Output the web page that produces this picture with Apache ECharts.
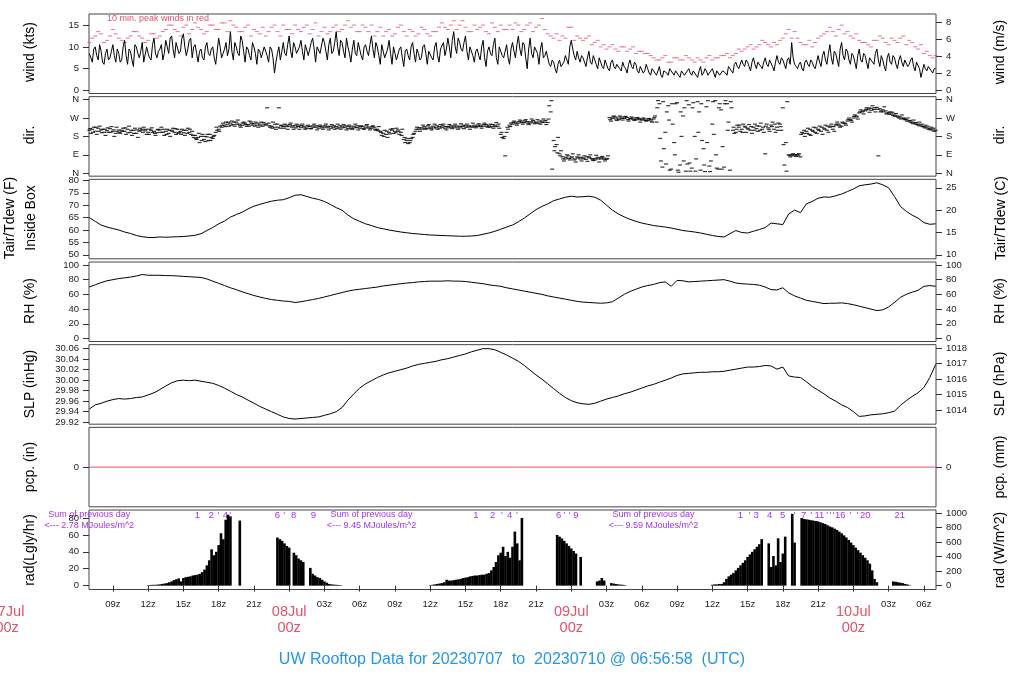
<!DOCTYPE html>
<html><head><meta charset="utf-8">
<script src="https://cdn.jsdelivr.net/npm/echarts@6/dist/echarts.min.js"></script>
<style>html,body{margin:0;padding:0;background:#fff}#c{width:1024px;height:700px}</style>
</head><body><div id="c"></div>
<script>
// ---- time base: hours since 07Jul 00z ----
const windStart = 7, windStep = 0.25;
const windKts = [
8.5,6.5,10,7,9,6,9.5,7.5,10.5,6.5,8.5,7,
11.5,6,9,5.5,10,7.5,11,6.5,8.5,7,12,7.5,
9.5,7,11.5,8.5,12.5,7.5,11,9,13,8,11.5,7.5,
10.5,6.5,9.5,7,11,8,10,6,12,7.5,9.5,8,
13.5,7,10,8,11.5,6.5,9.5,7,10,6,9,7.5,
10,6.5,9.5,4,8.5,7,11,8,12.5,7.5,10,8.5,
11.5,7,10.5,8,12,6.5,10,8.5,11,7,12,9,
13.5,8,11,7.5,10,6.5,11.5,8,9.5,7,10.5,8,
12.5,7.5,10,6,9,7.5,11.5,6,8.5,7,10,5.5,
9.5,7,11,6.5,8.5,7.5,10.5,6,9,7,11,6.5,
9.5,8,12,7.5,13.5,8.5,11,9,12.5,7,10,6.5,
9.5,7,11.5,5.5,10,8,12,6,9,7.5,10.5,6,
11,7.5,12.5,8,10.5,5,12,7.5,10,6,11,8,
7.5,5.5,6.5,4,7,5.5,8,6,11.5,8,9,6.5,
7.5,5.5,9,6,7,5,6.5,5,6,4.5,7,5,
6,4.5,5.5,4,7,5,6,4,5.5,4.5,5,3.5,
4.5,3.5,5.5,3,4.5,3.5,5,3.5,4.5,3,4,3.5,
5,3.5,4.5,3,5.5,4,4.5,3.5,5,3,4,3.5,
4.5,3.5,5,4,6.5,5,7,5.5,6.5,4.5,7.5,5,
6.5,5,7.5,5.5,7,4.5,8,6,7,5,7.5,11,
6,5,6.5,4.5,7,5.5,6.5,5,8,5.5,9,6,
10.5,6,8.5,5.5,11,7,9,6,8,5,9.5,6.5,
8,5,7.5,6,9.5,5.5,7,4.5,8.5,6,7.5,5,
8,5.5,7,6,7.5,4.5,6.5,3,6,4.5,5.5,4,
5];
// readings in between (offset +0.125 h)
const windKtsMid = [
7.5,9.5,8,10.5,6.5,8.5,7,9,8,9.5,6.5,10,
8,9.5,7,10.5,8.5,9,6.5,10,7.5,10.5,8.5,9,
10.5,8.5,10,12,9.5,11,8.5,12,10,9.5,12,10,
8.5,9,7.5,10,8.5,9.5,7.5,9,10,8.5,11,9.5,
9,11,8.5,12.5,9,10,8,11,8.5,9.5,7.5,10,
8,10,7.5,6.5,10,9,8.5,10.5,9,11,8.5,10,
9,10.5,8,11,9.5,10,8.5,12,9,10.5,8.5,11,
10,11.5,9,12,8.5,9.5,8.5,11,8,10,9,10.5,
9.5,11,8,10.5,7.5,9.5,8.5,10,7,9.5,7.5,9,
8,10,8.5,9.5,7,10,8.5,9,7.5,10,8,9.5,
11,9.5,10,11.5,10,12,9.5,11,9,10,8,9,
8,10,7.5,9,8.5,10.5,7.5,10,8,9,7.5,9.5,
9,10.5,9.5,11,7.5,9.5,8.5,10,8.5,9.5,7.5,9,
6,7,5,6,5.5,6.5,7,10,9.5,7,7.5,8,
6.5,7.5,6.5,8,6,7.5,5.5,7,5,6.5,5.5,6,
5,6.5,5,6,5.5,6.5,4.5,5.5,4,6,4,5,
4,4.5,3.5,4.5,4,5,4,4.5,3.5,4.5,3.5,4.5,
4,4.5,3.5,4.5,3.5,5,3.5,4.5,4,4.5,3.5,4.5,
4,5.5,4.5,6,5.5,6,6,7,5.5,6.5,6,6.5,
5.5,6.5,6,7,5.5,6.5,6.5,7.5,6,7,6,7.5,
5.5,6,5,6.5,6,7,5.5,6.5,6.5,8,7,8.5,
7.5,9,7,9.5,8,9.5,7,8.5,6.5,8,7,8.5,
6.5,7.5,6.5,8.5,7,8,5.5,7.5,6.5,8,6,7,
6.5,7,5.5,7,5.5,6.5,5,4.5,5,5.5,4.5,5];
const peakStart = 7, peakStep = 0.5;
const peakKts = [
11,12.5,13,11.5,14,12,11,12.5,13.5,12,11.5,13,
12.5,14,15,13.5,14.5,13,15.5,14,13.5,15,14,15.5,
16,14.5,13.5,15,14,13,12.5,14.5,13.5,15,14,15,
13.5,15,14,12.5,14.5,13.5,15,14,16,15,13.5,14.5,
15,13.5,12.5,14,13,15,12.5,13.5,13,14,12.5,13.5,
15.5,14,16,15,14.5,13.5,14,15,13,14.5,15,14,
14,15,14,15.5,14.5,16.5,13,12,11.5,12,14.5,12.5,
11.5,12.5,11,10,9.5,10.5,9,10,9.5,8.5,9,8.5,
7.5,7,8,6.5,7.5,7,7.5,6.5,7,7.5,7,7.5,
8,7.5,8.5,9,10,9.5,10.5,11,10,10.5,12,14,
13.5,11,10.5,10,12,13,14.5,12.5,15,13.5,12,11.5,
11,10,11.5,12,10.5,11.5,12,10.5,11,9.5,8.5,8,
8];
// peaks in between (offset +0.25 h)
const peakKtsMid = [
12,13.5,11,12.5,13,11.5,12,13.5,12.5,11,13,12,
13.5,15,14,12.5,15,14,14.5,13,15,14,15.5,13.5,
15,13.5,14.5,12.5,13.5,14.5,13.5,15,12.5,14,13,14,
14.5,13,15.5,13.5,13,14.5,13.5,15,14.5,13.5,15,13.5,
12.5,14.5,13.5,12.5,14.5,13.5,14,12.5,14.5,13,13.5,14.5,
14.5,15,14,16,13.5,15,14.5,13.5,15.5,13.5,14,15,
15.5,13.5,15,13.5,15,14,12.5,13,12.5,14.5,11.5,12,
12,10.5,11.5,10.5,10,9.5,10,9,10,9,8.5,8,
7,7.5,6.5,7.5,7,8,7,7.5,6.5,8,7.5,8,
8.5,8,9.5,9.5,10.5,10,11.5,10.5,11,11.5,13,12,
12,10.5,11.5,11,12.5,13.5,13.5,14,13,12.5,13,11,
10.5,11.5,12.5,11,12,11,12.5,11.5,10,10.5,9,7.5];
const dirStart = 7, dirStep = 0.25;
const dirA = [
210,215,205,220,212,200,208,218,205,195,212,210,
205,215,200,210,195,205,215,208,200,210,205,198,
212,200,205,195,210,200,215,205,198,210,200,205,
185,175,180,165,178,190,170,200,215,225,235,240,
245,238,250,240,235,245,238,250,242,235,240,230,
235,245,230,225,240,220,228,235,230,225,232,228,
225,230,220,228,232,225,220,230,226,222,230,225,
228,222,230,225,218,226,230,224,220,228,222,226,
220,225,215,205,195,190,200,210,205,212,200,165,
160,150,175,205,215,222,228,220,225,230,222,228,
225,220,228,232,226,222,230,228,232,226,230,235,
228,235,230,238,232,228,235,230,190,170,200,235,
240,250,245,255,248,252,245,258,250,245,255,250,
248,300,160,140,95,80,70,85,75,65,80,70,
75,68,80,72,65,78,70,75,68,272,268,275,
270,275,268,272,265,270,262,268,260,265,258,262,
265,250,340,30,200,330,20,150,345,40,280,10,
335,25,180,350,15,120,325,35,240,355,20,310,
30,340,15,210,200,225,215,230,220,210,225,218,
230,215,95,222,235,215,225,240,320,150,90,85,
88,92,80,195,205,190,210,200,215,205,220,210,
225,215,235,240,230,245,255,262,270,280,295,300,
305,310,318,312,322,315,310,305,295,290,285,280,
275,270,262,255,250,245,240,235,228,222,218,212,
210];
const dirB = [
195,225,190,230,215,185,200,228,180,205,195,220,
190,230,185,220,175,210,225,190,215,200,185,215,
225,185,215,180,220,190,200,215,185,220,190,175,
165,150,190,155,160,175,185,210,230,245,250,230,
255,230,260,225,250,230,255,235,250,225,250,240,
320,225,250,215,320,235,240,215,245,215,240,215,
240,215,235,218,240,212,235,215,240,212,238,215,
240,215,238,212,235,215,240,212,232,215,238,212,
232,210,228,185,210,175,215,195,220,190,215,150,
145,170,195,225,205,235,215,238,212,240,215,238,
240,212,238,218,240,215,242,218,240,215,245,222,
242,220,245,225,240,220,248,220,175,85,215,245,
255,235,260,240,262,238,265,242,262,240,265,238,
330,20,130,175,110,60,90,65,95,55,90,60,
85,58,90,62,88,55,82,60,85,255,280,258,
280,260,278,255,275,258,272,250,270,255,268,250,
280,355,60,120,300,15,240,340,5,180,320,45,
10,345,70,300,160,8,355,60,190,25,340,130,
355,250,320,195,235,205,240,200,238,195,240,205,
245,200,240,205,250,200,245,210,40,350,80,95,
82,95,200,180,220,185,225,195,230,190,235,200,
240,205,250,225,245,235,270,250,285,265,310,290,
320,298,330,300,85,305,325,295,300,282,292,270,
285,262,270,248,260,238,250,228,235,215,225,205];
const dirC = [
218,200,225,205,198,215,222,200,212,225,200,205,
222,198,210,195,212,220,200,215,190,222,195,212,
200,215,190,210,205,218,195,190,210,195,215,185,
170,195,160,180,190,160,180,225,205,235,228,250,
235,250,240,232,245,238,230,242,230,245,232,248,
240,232,220,240,225,232,220,228,238,232,222,235,
232,222,230,218,225,232,228,222,232,228,220,232,
220,232,222,232,228,218,222,232,228,218,232,220,
228,215,208,200,180,205,192,218,198,205,185,175,
170,160,190,215,222,215,220,232,218,222,232,220,
232,228,222,225,232,230,222,235,225,232,225,228,
235,228,238,230,225,238,228,240,200,180,225,228,
248,242,252,248,256,245,252,250,245,255,248,258,
265,355,110,100,85,70,78,72,80,70,75,78,
70,80,75,66,72,70,76,68,72,262,275,265,
262,268,275,262,268,262,270,262,265,258,265,255,
272,320,170,350,45,260,340,90,15,300,60,355,
50,320,10,200,340,40,150,8,350,90,320,20,
340,210,350,225,215,235,200,225,215,228,210,232,
210,225,230,215,228,240,210,228,140,10,88,92,
90,85,190,210,195,215,205,222,210,225,215,230,
230,228,240,232,250,242,262,258,278,275,300,305,
312,318,308,320,312,300,300,290,288,298,278,275,
265,268,255,258,242,248,232,240,222,230,212,220];
const slowStart = 7, slowStep = 0.5;
const tempF = [
65,63.5,62,61.2,60.6,60,59.2,58.6,57.8,57.3,57,57,
57.2,57.1,57.2,57.3,57.4,57.6,57.9,58.5,59.8,61,62.5,63.6,
65.2,66.2,67.2,68.5,69.6,70.3,71,71.6,72,72.2,73,74,
74.2,73.5,72.8,72.3,71.5,70.3,69,68,66,64.5,63.5,62.5,
61.8,61,60.5,60,59.6,59.2,58.9,58.6,58.4,58.2,58,57.9,
57.8,57.7,57.6,57.5,57.5,57.6,57.8,58.3,58.8,59.5,60.3,61.2,
62,63.3,64.8,66.5,68.2,69.5,70.5,71.8,72.5,73.2,73.6,73.3,
73.4,73.6,73.2,72,70,68,66.5,65.3,64.3,63.5,62.8,62.3,
61.8,61.5,61.2,60.8,60.3,59.8,59.5,59.2,58.8,58.3,57.8,57.4,
57.2,58.5,59.8,59,58.8,59.5,60.2,61,62.8,62.5,62.2,66.5,
68,67,70.5,71.5,72.8,73.3,73.2,73.8,74.5,75.5,76.5,77.8,
78.2,78.5,79,78.2,77,73.5,69.5,67.5,66,64.8,63,62.3,
62.5];
const rhPct = [
70,73,76,78.5,80,81.5,82.5,83.5,85,87,86,86,
86,85.5,85.5,85,84.5,84,83.5,83,81,78,75,72,
69,66.5,63.5,61,58.5,56.5,54.5,53,52,51,50.5,49,
50,51.5,53,54.5,56.5,58.5,60.5,62.5,64.5,66,67,68,
69,70,71.5,72.5,73.5,74.5,75.5,76,77,77.5,78,78,
78,78.5,78,78,77.5,76.5,75.5,74.5,73,72,71,69,
67.5,66,64.5,63,61.5,60,58,56.5,55,53.5,52,50.5,
49.5,49,48.5,48,48.5,50,55,60,64,67,70,72,
73.5,76,77,71,79,78.5,77,77.5,78,78.5,79,79.5,
80,78,75.5,74.5,74,73.5,72.5,70,66.5,66,69,62,
58,55,52,50.5,49,47.5,48,48,48.5,47.5,46,44,
42,40,38,39,43,49,56,60,63,65.5,71,72,
71];
const slpInHg = [
29.945,29.953,29.956,29.96,29.963,29.965,29.964,29.965,29.967,29.968,29.972,29.976,
29.982,29.989,29.995,29.999,30.000,29.999,30.000,29.998,29.996,29.994,29.99,29.985,
29.979,29.973,29.968,29.962,29.956,29.95,29.945,29.94,29.935,29.93,29.927,29.926,
29.927,29.928,29.929,29.93,29.933,29.936,29.94,29.948,29.962,29.974,29.985,29.993,
29.999,30.005,30.01,30.014,30.017,30.02,30.023,30.027,30.03,30.032,30.034,30.036,
30.039,30.041,30.044,30.047,30.05,30.054,30.057,30.06,30.06,30.058,30.053,30.048,
30.042,30.036,30.028,30.019,30.01,30.002,29.993,29.984,29.975,29.967,29.961,29.957,
29.955,29.954,29.956,29.96,29.964,29.967,29.97,29.974,29.977,29.981,29.985,29.989,
29.992,29.996,30.000,30.004,30.009,30.012,30.013,30.014,30.015,30.015,30.016,30.016,
30.017,30.019,30.021,30.023,30.025,30.025,30.026,30.028,30.027,30.021,30.025,30.008,
30.006,30.005,29.997,29.988,29.981,29.974,29.966,29.96,29.953,29.948,29.94,29.931,
29.932,29.934,29.935,29.936,29.938,29.941,29.952,29.961,29.969,29.976,29.986,30.005,
30.03];
const pcpHours = [6.97, 79.03];
const pcpIn = [0, 0];
// [hour, Langley/hr] (night / missing = no bar)
const radiation = [
[12.0,0.5],[12.2,0.8],[12.4,1],[12.6,1],[12.8,1.2],
[13.0,1.5],[13.2,2],[13.4,2.5],[13.6,3],[13.8,4],[14.0,5],[14.2,6.5],[14.4,7.5],[14.6,8.5],[14.8,5],
[15.0,9],[15.2,10],[15.4,10.5],[15.6,11],[15.8,12],[16.0,12.5],[16.2,13],[16.4,14],[16.6,16],[16.8,19],
[17.0,24],[17.2,30],[17.4,43],[17.6,36],[17.8,40],[18.0,48],[18.2,62],[18.4,55],[18.6,78],[18.8,84],
[19.0,82],[19.8,77],
[23.0,57],[23.2,55],[23.4,53],[23.6,50],[23.8,47],[24.0,45],[24.4,39],[24.6,36],[24.8,32],[25.0,30],[25.2,28],
[25.8,21],[26.0,14],[26.2,12],[26.4,10],[26.6,9],[26.8,7],[27.0,5],[27.2,3.5],[27.4,2],[27.6,1.5],[27.8,1.2],
[28.0,1],[28.2,0.8],[28.4,0.5],
[36.0,0.5],[36.2,1],[36.4,1.5],[36.6,2],[36.8,2.5],[37.0,3],[37.2,4],[37.4,7],[37.6,6],[37.8,6],
[38.0,6.5],[38.2,7],[38.4,7.5],[38.6,8],[38.8,9],[39.0,9.5],[39.2,10],[39.4,11],[39.6,11.5],[39.8,12],
[40.0,12],[40.2,12.5],[40.4,13],[40.6,13],[40.8,14],[41.0,15],[41.2,18],[41.4,22],[41.6,28],[41.8,36],
[42.0,39],[42.2,46],[42.4,35],[42.6,40],[42.8,33],[43.0,46],[43.2,64],[43.4,50],[43.6,30],[43.8,80],
[46.8,60],[47.0,58],[47.2,56],[47.4,53],[47.6,50],[47.8,47],[48.0,44],[48.2,41],[48.4,38],[48.8,34],
[50.2,5],[50.4,6],[50.6,9],[50.8,6],[51.4,3],[51.6,2.5],[51.8,2],[52.0,1.5],[52.2,1.2],[52.4,1],[52.6,0.5],
[60.0,1],[60.2,1.5],[60.4,1.5],[60.6,2],[60.8,2],[61.0,4],[61.2,8],[61.4,11],[61.6,13],[61.8,15],
[62.0,18],[62.2,21],[62.4,24],[62.6,27],[62.8,30],[63.0,34],[63.2,37],[63.4,40],[63.6,43],[63.8,46],
[64.0,49],[64.2,55],[64.8,50],[65.0,22],[65.2,35],[65.4,24],[65.6,56],[65.8,28],[66.0,38],[66.2,58],
[66.8,85],[67.0,51],[67.6,80],[67.8,79],[68.0,78.5],[68.2,78],[68.4,77.5],[68.6,77],[68.8,76.5],
[69.0,76],[69.2,75],[69.4,74],[69.6,73],[69.8,71.5],[70.0,70],[70.2,69],[70.4,67.5],[70.6,66],[70.8,64],
[71.0,62],[71.2,59.5],[71.4,57],[71.6,54],[71.8,51],[72.0,48],[72.2,45],[72.4,42],[72.6,39],[72.8,36],
[73.0,33],[73.2,30],[73.4,26],[73.6,18],[73.8,8],[74.0,4],
[75.4,5],[75.6,4.5],[75.8,4],[76.0,3.5],[76.2,3],[76.4,2],[76.6,1.5],[76.8,0.5]
];
const tickHours = [9,12,15,18,21,24,27,30,33,36,39,42,45,48,51,54,57,60,63,66,69,72,75,78];
const dateHours = [0, 24, 48, 72];
const dateLabels = ['07Jul', '08Jul', '09Jul', '10Jul'];
const sumHours = [7, 31, 55];
const sumValues = ['2.78', '9.45', '9.59'];
const markHours = [16.2,17.36,17.98,18.58,18.98,23.0,23.57,24.37,26.07,
  39.89,41.3,42.1,42.75,43.38,46.92,47.43,47.86,48.4,
  62.38,63.17,63.72,64.88,65.98,66.98,67.77,68.4,69.11,69.76,70.04,70.32,70.89,71.74,72.37,73.02,75.94];
const markLabels = ['1','2',"'",'4',"'",'6',"'",'8','9',
  '1','2',"'",'4',"'",'6',"'","'",'9',
  '1',"'",'3','4','5',"'",'7',"'",'11',"'","'","'",'16',"'","'",'20','21'];
const dirTicks = [0, 90, 180, 270, 360];
const dirNames = ['N', 'E', 'S', 'W', 'N'];

// ---- build ----
const FONT = '"Liberation Sans", Arial, Helvetica, sans-serif';
const RED = '#DF536B', BLUE = '#2297E6', PURPLE = '#A333F0';
const X0 = 6.97, X1 = 79.03;
const series2 = (start, step, arr) => arr.map((v, i) => [start + i * step, v]);
const merged = (...parts) => [].concat(...parts).sort((a, b) => a[0] - b[0]);

const grids = [];
for (let i = 0; i < 7; i++) grids.push({left: 89, width: 847, top: 14 + i * 82.67, height: 79.5,
  show: true, borderColor: '#444', borderWidth: 1, backgroundColor: 'transparent'});

const xAxes = grids.map((g, i) => ({
  type: 'value', gridIndex: i, min: X0, max: X1, axisLine: {show: false}, splitLine: {show: false},
  axisTick: {show: i === 6, customValues: tickHours, length: 6, lineStyle: {color: '#333'}},
  axisLabel: {show: i === 6, customValues: tickHours, fontSize: 9.5, fontFamily: FONT, color: '#222', margin: 10,
    formatter: v => { const hh = Math.round(v) % 24; return hh === 0 ? '' : String(hh).padStart(2, '0') + 'z'; }}
}));

function yax(gi, pos, min, max, vals, fmt) {
  return {type: 'value', gridIndex: gi, position: pos, min, max, axisLine: {show: false}, splitLine: {show: false},
    axisTick: {show: true, customValues: vals, length: 6, lineStyle: {color: '#333'}},
    axisLabel: {customValues: vals, formatter: fmt, fontSize: 9.5, fontFamily: FONT, color: '#222', margin: 10}};
}
const KT = 1.94384, HPA = 33.8639, WM2 = 11.622;
const yAxes = [
  yax(0, 'left', -0.69, 17.54, [0,5,10,15], v => String(Math.round(v))),
  yax(0, 'right', -0.69 / KT, 17.54 / KT, [0,2,4,6,8], v => String(Math.round(v))),
  yax(1, 'left', -14.4, 374.4, dirTicks, v => dirNames[dirTicks.indexOf(Math.round(v))]),
  yax(1, 'right', -14.4, 374.4, dirTicks, v => dirNames[dirTicks.indexOf(Math.round(v))]),
  yax(2, 'left', 48.4, 80.4, [50,55,60,65,70,75,80], v => String(Math.round(v))),
  yax(2, 'right', (48.4 - 32) / 1.8, (80.4 - 32) / 1.8, [10,15,20,25], v => String(Math.round(v))),
  yax(3, 'left', -4, 104, [0,20,40,60,80,100], v => String(Math.round(v))),
  yax(3, 'right', -4, 104, [0,20,40,60,80,100], v => String(Math.round(v))),
  yax(4, 'left', 29.9162, 30.0676, [29.92,29.94,29.96,29.98,30.00,30.02,30.04,30.06], v => v.toFixed(2)),
  yax(4, 'right', 29.9162 * HPA, 30.0676 * HPA, [1014,1015,1016,1017,1018], v => String(Math.round(v))),
  yax(5, 'left', -1, 1, [0], v => '0'),
  yax(5, 'right', -25.4, 25.4, [0], v => '0'),
  yax(6, 'left', -4.6, 89.5, [0,20,40,60,80], v => String(Math.round(v))),
  yax(6, 'right', -4.6 * WM2, 89.5 * WM2, [0,200,400,600,800,1000], v => String(Math.round(v)))
];

const dash = {type: 'scatter', symbol: 'rect', symbolSize: [4, 1.2], itemStyle: {color: '#000'}};
const series = [
  {type: 'line', xAxisIndex: 0, yAxisIndex: 0, symbol: 'none', lineStyle: {color: '#000', width: 1}, z: 3,
    data: merged(series2(windStart, windStep, windKts), series2(windStart + windStep / 2, windStep, windKtsMid))},
  {type: 'scatter', xAxisIndex: 0, yAxisIndex: 0, symbol: 'rect', symbolSize: [4, 1], itemStyle: {color: RED}, z: 2,
    data: merged(series2(peakStart, peakStep, peakKts), series2(peakStart + peakStep / 2, peakStep, peakKtsMid))},
  Object.assign({xAxisIndex: 1, yAxisIndex: 2, data: series2(dirStart, dirStep, dirA)}, dash),
  Object.assign({xAxisIndex: 1, yAxisIndex: 2, data: series2(dirStart + dirStep / 2, dirStep, dirB)}, dash),
  Object.assign({xAxisIndex: 1, yAxisIndex: 2, data: series2(dirStart + dirStep / 4, dirStep, dirC)}, dash),
  {type: 'line', xAxisIndex: 2, yAxisIndex: 4, data: series2(slowStart, slowStep, tempF), symbol: 'none',
    lineStyle: {color: '#000', width: 1}},
  {type: 'line', xAxisIndex: 3, yAxisIndex: 6, data: series2(slowStart, slowStep, rhPct), symbol: 'none',
    lineStyle: {color: '#000', width: 1}},
  {type: 'line', xAxisIndex: 4, yAxisIndex: 8, data: series2(slowStart, slowStep, slpInHg), symbol: 'none',
    lineStyle: {color: '#000', width: 1}},
  {type: 'line', xAxisIndex: 5, yAxisIndex: 10, data: pcpHours.map((h, i) => [h, pcpIn[i]]), symbol: 'none',
    lineStyle: {color: RED, width: 1}},
  {type: 'bar', xAxisIndex: 6, yAxisIndex: 12, data: radiation, barWidth: 2.6, itemStyle: {color: '#000'}}
];

const chart = echarts.init(document.getElementById('c'), null, {renderer: 'canvas'});
chart.setOption({animation: false, backgroundColor: '#fff', grid: grids, xAxis: xAxes, yAxis: yAxes, series});

function txt(x, y, text, size, color, opts) {
  return Object.assign({type: 'text', x, y, silent: true,
    style: {text, fill: color, fontSize: size, fontFamily: FONT, align: 'center', verticalAlign: 'middle'}}, opts || {});
}
const g = [];
const leftTitles = [['wind (kts)', 30, 52], ['dir.', 30, 135], ['RH (%)', 30, 301], ['SLP (inHg)', 30, 384],
  ['pcp. (in)', 30, 467], ['rad(Lgly/hr)', 30, 550]];
leftTitles.forEach(t => g.push(txt(t[1], t[2], t[0], 14, '#000', {rotation: Math.PI / 2})));
g.push(txt(10, 218, 'Tair/Tdew (F)', 14, '#000', {rotation: Math.PI / 2}));
g.push(txt(31, 218, 'Inside Box', 14, '#000', {rotation: Math.PI / 2}));
const rightTitles = [['wind (m/s)', 1000, 52], ['dir.', 1000, 135], ['Tair/Tdew (C)', 1001, 218], ['RH (%)', 1000, 301],
  ['SLP (hPa)', 1000, 384], ['pcp. (mm)', 1000, 467], ['rad (W/m^2)', 1000, 550]];
rightTitles.forEach(t => g.push(txt(t[1], t[2], t[0], 14, '#000', {rotation: Math.PI / 2})));
g.push({type: 'text', x: 107, y: 19, silent: true, style: {text: '10 min. peak winds in red', fill: RED,
  fontSize: 9, fontFamily: FONT, align: 'left', verticalAlign: 'middle'}});
dateHours.forEach((h, i) => {
  const x = chart.convertToPixel({xAxisIndex: 6}, h);
  g.push(txt(x, 612, dateLabels[i], 14.5, RED));
  g.push(txt(x, 628, '00z', 14.5, RED));
});
sumHours.forEach((h, i) => {
  const x = chart.convertToPixel({xAxisIndex: 6}, h);
  g.push(txt(x, 515, 'Sum of previous day', 9, PURPLE));
  g.push(txt(x, 526, '<--- ' + sumValues[i] + ' MJoules/m^2', 9, PURPLE));
});
markHours.forEach((h, i) => {
  const x = chart.convertToPixel({xAxisIndex: 6}, h);
  g.push(txt(x, 515, markLabels[i], 9.5, PURPLE));
});
g.push(txt(512, 660, 'UW Rooftop Data for 20230707  to  20230710 @ 06:56:58  (UTC)', 16, BLUE));
chart.setOption({graphic: g});
</script></body></html>
